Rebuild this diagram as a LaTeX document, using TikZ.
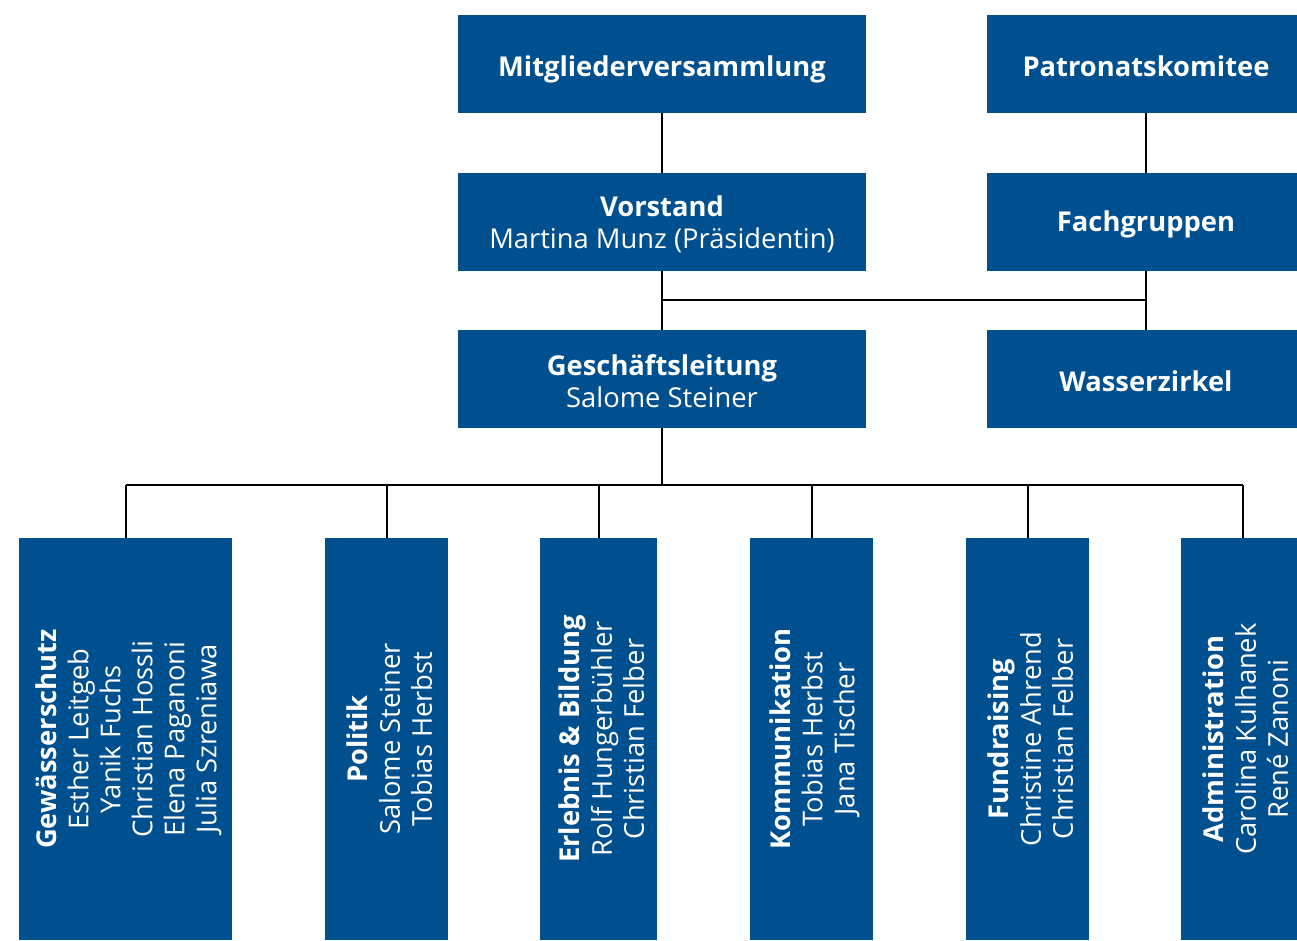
\documentclass[tikz,border=0pt]{standalone}
\usepackage{fontspec}
\setmainfont{Open Sans}
\definecolor{orgblue}{RGB}{0,79,143}
\begin{document}
\begin{tikzpicture}[x=0.75pt,y=-0.75pt,
  box/.style={fill=orgblue, text=white, inner sep=0pt, align=center, draw=none,
    font=\fontsize{20.5}{24}\selectfont},
  topbox/.style={box, minimum width=306pt, minimum height=73.5pt},
  sidebox/.style={box, minimum width=238.5pt, minimum height=73.5pt},
  wide/.style={box, minimum width=159.75pt, minimum height=301.5pt},
  narrow/.style={box, minimum width=92.25pt, minimum height=301.5pt},
  vtext/.style={rotate=90, text=white, align=center, inner sep=0pt,
    font=\fontsize{20.5}{24}\selectfont},
  conn/.style={draw=black, line width=1.5pt}]
\useasboundingbox (0,0) rectangle (1297,940);

\node[topbox] (mv) at (662,64) {};
\node[topbox] (vs) at (662,222) {};
\node[topbox] (gl) at (662,379) {};
\node[sidebox] (pk) at (1146,64) {};
\node[sidebox] (fg) at (1146,222) {};
\node[sidebox] (wz) at (1146,379) {};
\node[box, fill=none] (tmv) at (662,69) {\textbf{Mitgliederversammlung}};
\node[box, fill=none] (tvs) at (662,224) {\textbf{Vorstand}\\Martina Munz (Präsidentin)};
\node[box, fill=none] (tgl) at (662,381) {\textbf{Geschäftsleitung}\\Salome Steiner};
\node[box, fill=none] (tpk) at (1146,66) {\textbf{Patronatskomitee}};
\node[box, fill=none] (tfg) at (1146,224) {\textbf{Fachgruppen}};
\node[box, fill=none] (twz) at (1146,381) {\textbf{Wasserzirkel}};

\node[wide] (b1) at (125.5,739) {};
\node[narrow] (b2) at (386.5,739) {};
\node[box, minimum width=87.75pt, minimum height=301.5pt] (b3) at (598.5,739) {};
\node[narrow] (b4) at (811.5,739) {};
\node[narrow] (b5) at (1027.5,739) {};
\node[narrow] (b6) at (1242.5,739) {};

\node[vtext] (t1) at ([xshift=2.25pt]b1.center) {\textbf{Gewässerschutz}\\Esther Leitgeb\\Yanik Fuchs\\Christian Hossli\\Elena Paganoni\\Julia Szreniawa};
\node[vtext] (t2) at ([xshift=2.25pt]b2.center) {\textbf{Politik}\\Salome Steiner\\Tobias Herbst};
\node[vtext] (t3) at ([xshift=2.25pt]b3.center) {\textbf{Erlebnis \& Bildung}\\Rolf Hungerbühler\\Christian Felber};
\node[vtext] (t4) at ([xshift=2.25pt]b4.center) {\textbf{Kommunikation}\\Tobias Herbst\\Jana Tischer};
\node[vtext] (t5) at ([xshift=2.25pt]b5.center) {\textbf{Fundraising}\\Christine Ahrend\\Christian Felber};
\node[vtext] (t6) at ([xshift=2.25pt]b6.center) {\textbf{Administration}\\Carolina Kulhanek\\René Zanoni};

\coordinate (j1) at (662,300);
\coordinate (j2) at (1146,300);
\coordinate (h0) at (662,485);
\coordinate (h1) at (125.5,485);
\coordinate (h6) at (1242.5,485);

\draw[conn] (mv.south) -- (vs.north);
\draw[conn] (pk.south) -- (fg.north);
\draw[conn] (vs.south) -- (gl.north);
\draw[conn] (fg.south) -- (wz.north);
\draw[conn] (j1) -- (j2);
\draw[conn] (gl.south) -- (h0);
\draw[conn] (h1) -- (h6);
\draw[conn] (h1) -- (b1.north);
\draw[conn] (b2.north |- h0) -- (b2.north);
\draw[conn] (b3.north |- h0) -- (b3.north);
\draw[conn] (b4.north |- h0) -- (b4.north);
\draw[conn] (b5.north |- h0) -- (b5.north);
\draw[conn] (h6) -- (b6.north);
\end{tikzpicture}
\end{document}
